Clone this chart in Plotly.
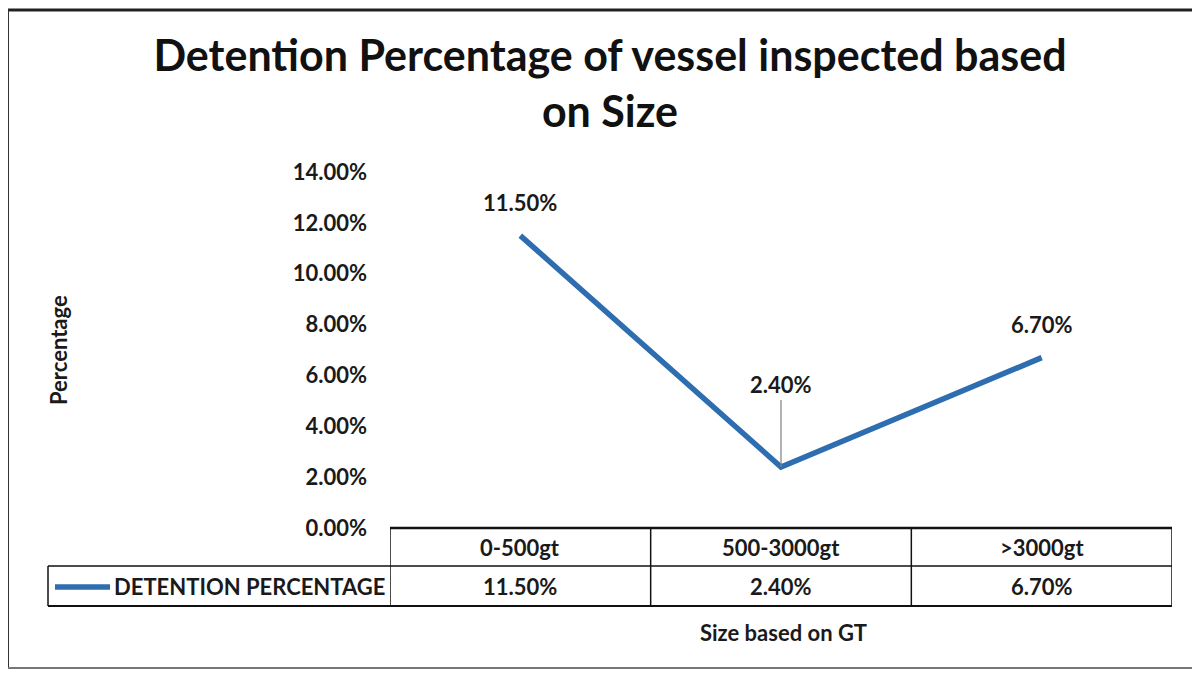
import plotly.graph_objects as go

# Dados
categorias = ["0-500gt", "500-3000gt", ">3000gt"]
detencao = [0.115, 0.024, 0.067]
rotulos = ["11.50%", "2.40%", "6.70%"]
serie = "DETENTION PERCENTAGE"

azul = "#2E6DB0"
preto = "#1a1a1a"
fonte = "Lato"

W, H = 1200, 674
OFF = 8  # margem padrão do body da página
ml, mr, mt, mb = 390 - OFF, 36, 172 - OFF, H - (528 - OFF)
pw, ph = W - ml - mr, H - mt - mb


def px_x(x):
    return (x - OFF - ml) / pw


def px_y(y):
    return (H - mb - (y - OFF)) / ph


def txt(size=22):
    return {"size": size, "color": preto, "family": fonte, "weight": "bold"}


fig = go.Figure()
fig.add_trace(
    go.Scatter(
        x=categorias,
        y=detencao,
        mode="lines",
        line={"color": azul, "width": 5.5},
        showlegend=False,
        hoverinfo="skip",
    )
)

# rótulos de dados
for i, (c, v, r) in enumerate(zip(categorias, detencao, rotulos)):
    if i == 1:
        fig.add_annotation(
            x=c, y=v, text=r, showarrow=True, arrowhead=0,
            arrowwidth=1.2, arrowcolor="#808080", ax=0, ay=-82, font=txt(),
        )
    else:
        fig.add_annotation(x=c, y=v, text=r, showarrow=False, yshift=33, font=txt())

# tabela de dados abaixo do eixo
y_top, y_mid, y_bot = px_y(528), px_y(566), px_y(606)
linha = {"color": "#111111", "width": 1.5}
fig.add_shape(type="line", xref="x", yref="paper", x0=-0.5, x1=2.5,
              y0=y_top, y1=y_top, line={"color": "#111111", "width": 2.5})
fig.add_shape(type="line", xref="paper", yref="paper", x0=px_x(48), x1=1,
              y0=y_mid, y1=y_mid, line=linha)
fig.add_shape(type="line", xref="paper", yref="paper", x0=px_x(48), x1=1,
              y0=y_bot, y1=y_bot, line={"color": "#111111", "width": 2})
fig.add_shape(type="line", xref="paper", yref="paper", x0=px_x(48), x1=px_x(48),
              y0=y_mid, y1=y_bot, line=linha)
for k in range(len(categorias) + 1):
    fig.add_shape(type="line", xref="x", yref="paper", x0=k - 0.5, x1=k - 0.5,
                  y0=y_top, y1=y_bot, line=linha)

for c, r in zip(categorias, rotulos):
    fig.add_annotation(x=c, xref="x", y=(y_top + y_mid) / 2, yref="paper",
                       yanchor="middle", text=c, showarrow=False, font=txt())
    fig.add_annotation(x=c, xref="x", y=(y_mid + y_bot) / 2, yref="paper",
                       yanchor="middle", text=r, showarrow=False, font=txt())

# legenda dentro da tabela
fig.add_shape(type="line", xref="paper", yref="paper", x0=px_x(55), x1=px_x(110),
              y0=px_y(587), y1=px_y(587), line={"color": azul, "width": 5.5})
fig.add_annotation(x=px_x(112), xref="paper", y=(y_mid + y_bot) / 2, yref="paper",
                   xanchor="left", yanchor="middle", text=serie,
                   showarrow=False, font=txt())

# títulos dos eixos
fig.add_annotation(x=px_x(783), xref="paper", y=px_y(632), yref="paper",
                   xanchor="center", yanchor="middle",
                   text="Size based on GT", showarrow=False, font=txt())
fig.add_annotation(x=px_x(58), xref="paper", y=px_y(350), yref="paper",
                   xanchor="center", yanchor="middle",
                   text="Percentage", textangle=-90, showarrow=False, font=txt())

# moldura externa
borda = {"color": "#333333", "width": 2}
fig.add_shape(type="line", xref="paper", yref="paper", x0=px_x(8), x1=px_x(1200),
              y0=px_y(10), y1=px_y(10), line={"color": "#222222", "width": 3})
fig.add_shape(type="line", xref="paper", yref="paper", x0=px_x(8), x1=px_x(8),
              y0=px_y(668), y1=px_y(10), line=borda)
fig.add_shape(type="line", xref="paper", yref="paper", x0=px_x(8), x1=px_x(1200),
              y0=px_y(668), y1=px_y(668), line={"color": "#777777", "width": 2})

fig.update_layout(
    width=W, height=H,
    margin={"l": ml, "r": mr, "t": mt, "b": mb},
    paper_bgcolor="white", plot_bgcolor="white",
    title={
        "text": "<b>Detention Percentage of vessel inspected based<br>on Size</b>",
        "x": (610 - OFF) / W, "xanchor": "center",
        "y": 1 - (71 - OFF) / H, "yanchor": "middle",
        "font": {"size": 43, "color": "#111111", "family": fonte},
    },
    xaxis={"type": "category", "range": [-0.5, 2.5], "showticklabels": False,
           "showgrid": False, "zeroline": False, "showline": False},
    yaxis={"range": [0, 0.14], "dtick": 0.02, "tickformat": ".2%",
           "showgrid": False, "zeroline": False, "showline": False,
           "ticklabelstandoff": 22, "tickfont": txt()},
    font={"family": fonte},
)

fig.write_html("out.html")
